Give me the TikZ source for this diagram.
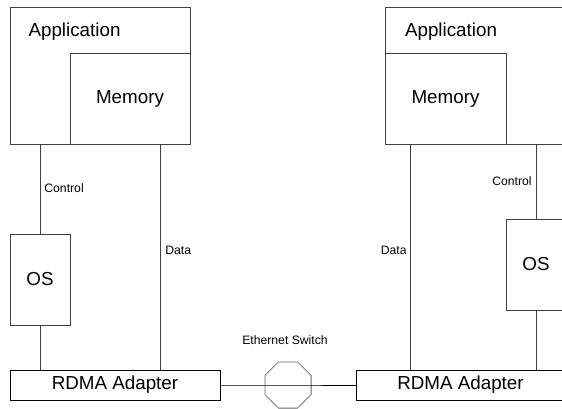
\documentclass[tikz,border=0pt]{standalone}
\usepackage{fontspec}
\setmainfont{Liberation Sans}
\usetikzlibrary{shapes.geometric}
\begin{document}
\begin{tikzpicture}[x=1pt,y=-1pt,
  box/.style={draw=black!75,line width=0.8pt,inner sep=0,rectangle},
  big/.style={font=\fontsize{18.8}{21}\selectfont},
  small/.style={font=\fontsize{12.2}{14}\selectfont,inner sep=0},
  wire/.style={draw=black!75,line width=0.8pt}]
\useasboundingbox (0,0) rectangle (562,408);
\clip (0,0) rectangle (562,408);
% left host
\node[box,minimum width=180,minimum height=137] (app1) at (100,75.5) {};
\node[big,inner sep=0] (app1t) at (74.5,32) {Application};
\node[box,big,minimum width=120,minimum height=91] (mem1) at (130,98.5) {Memory};
\node[box,big,minimum width=60,minimum height=91] (os1) at (40,279.5) {OS};
\node[box,big,draw=black,minimum width=210,minimum height=30] (rdma1) at (115,385) {RDMA Adapter};
% switch
\node[regular polygon,regular polygon sides=8,draw=black!60,line width=0.8pt,inner sep=0,minimum size=50] (sw) at (288,385) {};
\node[small] (swt) at (285,340) {Ethernet Switch};
% right host
\node[box,minimum width=180,minimum height=137] (app2) at (475,75.5) {};
\node[big,inner sep=0] (app2t) at (451,32) {Application};
\node[box,big,minimum width=121,minimum height=91] (mem2) at (445.5,98.5) {Memory};
\node[box,big,minimum width=60,minimum height=91] (os2) at (536,264.5) {OS};
\node[box,big,draw=black,minimum width=209,minimum height=30] (rdma2) at (460.5,385) {RDMA Adapter};
% left connectors
\draw[wire] (os1.north |- app1.south) -- node[small,anchor=west,pos=0.49,xshift=4] (ctl1) {Control} (os1.north);
\draw[wire] (os1.south) -- (os1.south |- rdma1.north);
\coordinate (d1) at ([xshift=30]mem1.south);
\draw[wire] (d1) -- node[small,anchor=west,pos=0.47,xshift=5] (dat1) {Data} (d1 |- rdma1.north);
% right connectors
\draw[wire] (os2.north |- app2.south) -- node[small,anchor=east,pos=0.49,xshift=-4] (ctl2) {Control} (os2.north);
\draw[wire] (os2.south) -- (os2.south |- rdma2.north);
\coordinate (d2) at ([xshift=-35.5]mem2.south);
\draw[wire] (d2) -- node[small,anchor=east,pos=0.47,xshift=-3] (dat2) {Data} (d2 |- rdma2.north);
% network
\draw[line width=0.8pt] (rdma1.east) -- (sw.center) -- (rdma2.west);
\end{tikzpicture}
\end{document}
